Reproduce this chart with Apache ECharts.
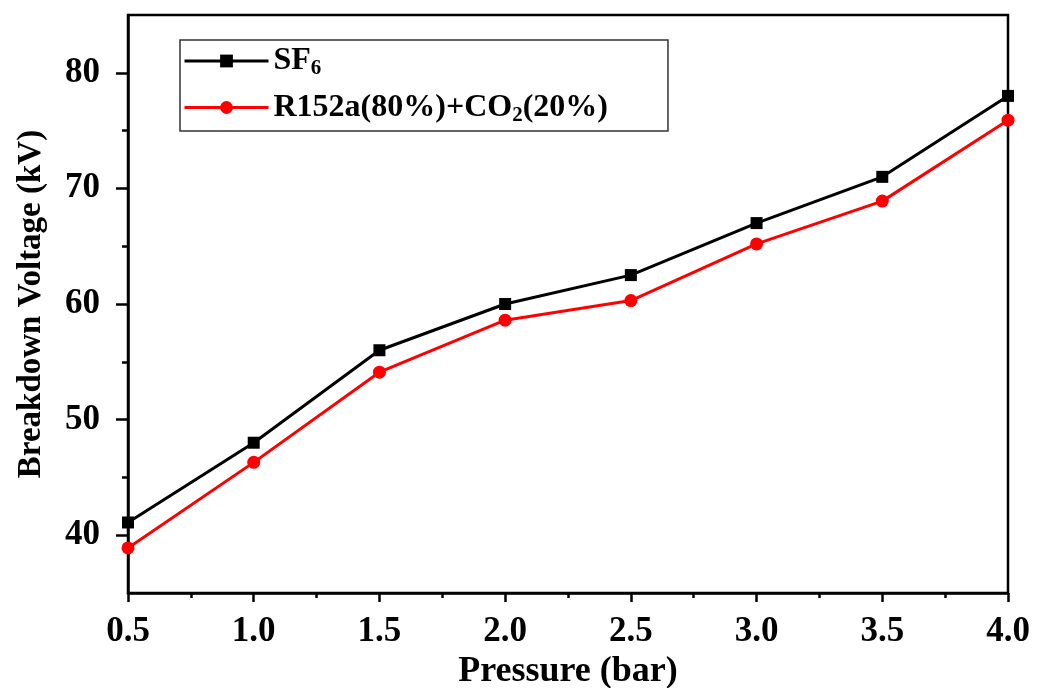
<!DOCTYPE html>
<html><head><meta charset="utf-8">
<script src="https://cdn.jsdelivr.net/npm/echarts@6/dist/echarts.min.js"></script>
<style>html,body{margin:0;padding:0;background:#fff}#c{width:1038px;height:688px}</style>
</head><body><div id="c"></div>
<script>
const pressure = [0.5, 1.0, 1.5, 2.0, 2.5, 3.0, 3.5, 4.0];
const sf6 = [41.1, 48.0, 56.0, 60.0, 62.5, 67.0, 71.0, 78.0];
const r152a = [38.9, 46.3, 54.1, 58.6, 60.3, 65.2, 68.9, 75.9];
const yLabels = [40, 50, 60, 70, 80];
const yMinor = [45, 55, 65, 75];
const xTicks = [0.5, 1.0, 1.5, 2.0, 2.5, 3.0, 3.5, 4.0];

const font = '"Liberation Serif", "Times New Roman", serif';
const chart = echarts.init(document.getElementById('c'));
chart.setOption({
  animation: false,
  grid: {left: 128, right: 30, top: 15, bottom: 95, outerBoundsMode: 'none', containLabel: false,
    show: true, borderColor: '#000', borderWidth: 2.5, backgroundColor: 'transparent'},
  legend: {
    left: 180, top: 40, orient: 'vertical',
    width: 487, padding: [5, 60, 5, 3],
    borderColor: '#333', borderWidth: 1.5,
    itemWidth: 84, itemHeight: 16, itemGap: 12,
    lineStyle: {width: 3},
    textStyle: {fontFamily: font, fontWeight: 'bold', fontSize: 32, color: '#000',
      rich: {
        m: {fontFamily: font, fontWeight: 'bold', fontSize: 32, color: '#000'},
        s: {fontFamily: font, fontWeight: 'bold', fontSize: 21, color: '#000', verticalAlign: 'bottom', padding: [16, 0, 0, 0]}
      }},
    formatter: function (n) {
      if (n === 'SF6') return '{m|SF}{s|6}';
      return '{m|R152a(80%)+CO}{s|2}{m|(20%)}';
    },
    data: ['SF6', 'R152a']
  },
  xAxis: {
    type: 'value', min: 0.5, max: 4.0, interval: 0.5,
    name: 'Pressure (bar)', nameLocation: 'middle', nameGap: 57,
    nameTextStyle: {fontFamily: font, fontWeight: 'bold', fontSize: 36, color: '#000'},
    axisLine: {lineStyle: {color: '#000', width: 2.5}},
    axisTick: {length: 9, lineStyle: {color: '#000', width: 2.5}},
    minorTick: {show: true, splitNumber: 2, length: 5, lineStyle: {color: '#000', width: 2.5}},
    splitLine: {show: false},
    axisLabel: {margin: 21, fontFamily: font, fontWeight: 'bold', fontSize: 35, color: '#000',
      formatter: v => v.toFixed(1), customValues: xTicks}
  },
  yAxis: [{
    type: 'value', min: 35, max: 85, interval: 5,
    name: 'Breakdown Voltage (kV)', nameLocation: 'middle', nameGap: 80,
    nameTextStyle: {fontFamily: font, fontWeight: 'bold', fontSize: 33, color: '#000'},
    axisLine: {lineStyle: {color: '#000', width: 2.5}},
    axisTick: {length: 12, lineStyle: {color: '#000', width: 2.5}, customValues: yLabels},
    splitLine: {show: false},
    axisLabel: {margin: 28, fontFamily: font, fontWeight: 'bold', fontSize: 35, color: '#000', customValues: yLabels}
  }, {
    type: 'value', min: 35, max: 85, interval: 5, position: 'left',
    axisLine: {show: false},
    axisTick: {length: 6, lineStyle: {color: '#000', width: 2.5}, customValues: yMinor},
    axisLabel: {show: false}, splitLine: {show: false}
  }],
  series: [{
    name: 'SF6', type: 'line', yAxisIndex: 0,
    data: pressure.map((p, i) => [p, sf6[i]]),
    symbol: 'rect', symbolSize: 12,
    lineStyle: {color: '#000', width: 3}, itemStyle: {color: '#000'}
  }, {
    name: 'R152a', type: 'line', yAxisIndex: 0,
    data: pressure.map((p, i) => [p, r152a[i]]),
    symbol: 'circle', symbolSize: 13,
    lineStyle: {color: '#ff0000', width: 3}, itemStyle: {color: '#ff0000'}
  }]
});
</script></body></html>
